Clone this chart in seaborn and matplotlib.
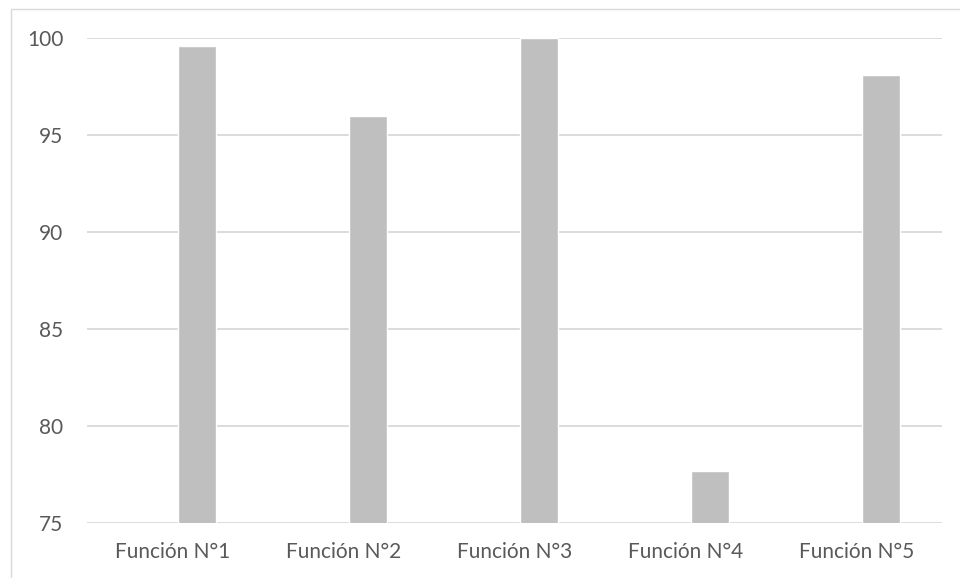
import matplotlib
matplotlib.use("Agg")
import matplotlib.pyplot as plt
from matplotlib.patches import Rectangle
import seaborn as sns
import pandas as pd

# Data
categories = ["Función N°1", "Función N°2", "Función N°3", "Función N°4", "Función N°5"]
values = [99.6, 96.0, 100.0, 77.7, 98.1]
series_names = ["Serie 1", "Serie 2"]  # first series is empty, second holds the values
y_ticks = [75, 80, 85, 90, 95, 100]

df = pd.DataFrame({"categoria": categories, "valor": values, "serie": series_names[1]})

sns.set_theme(style="white")
plt.rcParams["font.family"] = ["Lato", "DejaVu Sans"]

TEXT = "#595959"
GRID = "#D9D9D9"
BAR = "#BFBFBF"

fig = plt.figure(figsize=(9.6, 5.78), dpi=100)
ax = fig.add_axes([87 / 960, 1 - 523 / 578, (942 - 87) / 960, (523 - 38.3) / 578])

sns.barplot(
    data=df, x="categoria", y="valor", hue="serie", hue_order=series_names,
    order=categories, palette=[BAR, BAR], width=0.573, gap=0.225, dodge=True,
    legend=False, ax=ax, errorbar=None, saturation=1,
)

ax.set_xlim(-0.5, len(categories) - 0.5)
ax.set_ylim(y_ticks[0], y_ticks[-1])
ax.set_yticks(y_ticks)
ax.yaxis.grid(True, color=GRID, linewidth=1.3)
ax.set_axisbelow(True)
for s in ax.spines.values():
    s.set_visible(False)
ax.set_xlabel("")
ax.set_ylabel("")
ax.tick_params(axis="both", length=0, labelsize=15, labelcolor=TEXT)
ax.tick_params(axis="y", pad=17)
ax.tick_params(axis="x", pad=14)

# chart area border
fig.patches.append(Rectangle((10.7 / 960, -0.1), 1.2, 1 - 9 / 578 + 0.1,
                             transform=fig.transFigure, fill=False,
                             edgecolor=GRID, linewidth=1.0, zorder=0))

fig.savefig("out.png", dpi=100)
